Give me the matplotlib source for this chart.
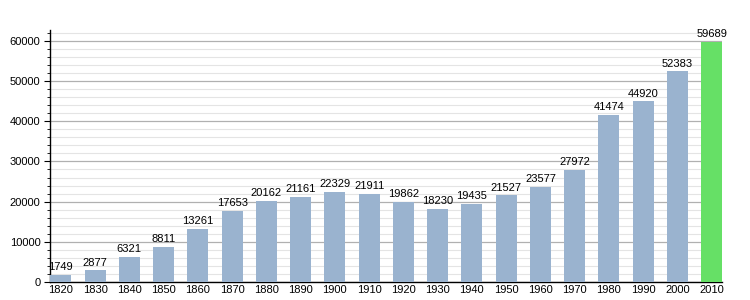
#!/usr/bin/env python3

import matplotlib.pyplot as plt
from matplotlib.ticker import MultipleLocator

plt.rcParams['font.family'] = ['Liberation Sans', 'DejaVu Sans']

# Données
annees = ["1820", "1830", "1840", "1850", "1860", "1870", "1880", "1890", "1900", "1910",
          "1920", "1930", "1940", "1950", "1960", "1970", "1980", "1990", "2000", "2010"]
population = [1749, 2877, 6321, 8811, 13261, 17653, 20162, 21161, 22329, 21911,
              19862, 18230, 19435, 21527, 23577, 27972, 41474, 44920, 52383, 59689]

couleurs = ["#9ab3cf"] * (len(annees) - 1) + ["#66e066"]

fig = plt.figure(figsize=(7.5, 3), dpi=100)
ax = fig.add_axes([0.067, 0.06, 0.896, 0.84])

x = list(range(len(annees)))
ax.bar(x, population, width=0.62, color=couleurs, zorder=3)

for xi, v in zip(x, population):
    ax.text(xi, v + 700, str(v), ha='center', va='bottom', fontsize=8, zorder=4)

ax.set_xlim(-0.31, len(annees) - 1 + 0.31)
ax.set_ylim(0, 62700)
ax.set_xticks(x)
ax.set_xticklabels(annees, fontsize=8)
ax.tick_params(axis='x', length=0, pad=2)

ax.yaxis.set_major_locator(MultipleLocator(10000))
ax.yaxis.set_minor_locator(MultipleLocator(2000))
ax.tick_params(axis='y', which='major', length=4, labelsize=8, pad=3)
ax.tick_params(axis='y', which='minor', length=2)

ax.grid(axis='y', which='major', color='#b0b0b0', linewidth=0.9, zorder=0)
ax.grid(axis='y', which='minor', color='#e4e4e4', linewidth=0.8, zorder=0)

for s in ['top', 'right']:
    ax.spines[s].set_visible(False)
ax.spines['left'].set_linewidth(1)
ax.spines['bottom'].set_linewidth(1)

fig.savefig("out.png", dpi=100)
